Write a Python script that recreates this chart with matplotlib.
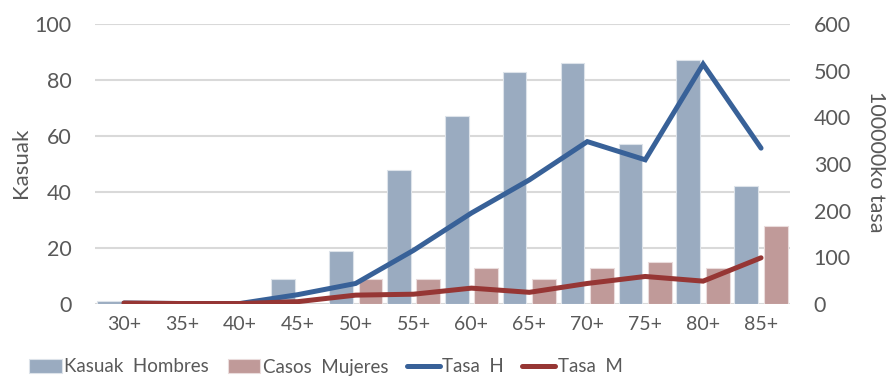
import matplotlib
matplotlib.use("Agg")
import matplotlib.pyplot as plt
import numpy as np

age_groups = ["30+", "35+", "40+", "45+", "50+", "55+", "60+", "65+", "70+", "75+", "80+", "85+"]
cases_men = [1, 0, 0, 9, 19, 48, 67, 83, 86, 57, 87, 42]
cases_women = [0, 0, 0, 0, 9, 9, 13, 9, 13, 15, 13, 28]
rate_men = [2, 1, 1, 20, 44, 115, 195, 266, 348, 309, 514, 334]
rate_women = [2, 1, 1, 5, 19, 21, 34, 25, 44, 59, 49, 99]

plt.rcParams["font.family"] = ["Lato", "DejaVu Sans"]

c_men_bar = "#9AABC0"
c_women_bar = "#C09A99"
c_men_line = "#386198"
c_women_line = "#963634"
txt = "#595959"

W, H = 887, 378
fig = plt.figure(figsize=(W / 100, H / 100), dpi=100)
ax = fig.add_axes([95 / W, 1 - 304 / H, (790 - 95) / W, (304 - 24) / H])
ax2 = ax.twinx()

x = np.arange(len(age_groups))
bw = 0.41
b1 = ax.bar(x - 0.255, cases_men, bw, color=c_men_bar, edgecolor="#DDE3EA", linewidth=0.8,
            label="Kasuak  Hombres", zorder=2)
b2 = ax.bar(x + 0.255, cases_women, bw, color=c_women_bar, edgecolor="#EADCDC", linewidth=0.8,
            label="Casos  Mujeres", zorder=2)
l1, = ax2.plot(x, rate_men, color=c_men_line, lw=3.6, solid_capstyle="round",
               solid_joinstyle="miter", label="Tasa  H", zorder=3)
l2, = ax2.plot(x, rate_women, color=c_women_line, lw=3.6, solid_capstyle="round",
               solid_joinstyle="miter", label="Tasa  M", zorder=3)

ax.set_xlim(-0.5, len(age_groups) - 0.5)
ax.set_ylim(0, 100)
ax2.set_ylim(0, 600)
ax.set_yticks(range(0, 101, 20))
ax2.set_yticks(range(0, 601, 100))
ax.set_xticks(x)
ax.set_xticklabels(age_groups)
ax.yaxis.grid(True, color="#D9D9D9", lw=1.5, zorder=0)
ax.set_axisbelow(True)

for a in (ax, ax2):
    for s in a.spines.values():
        s.set_visible(False)
    a.tick_params(length=0, labelsize=15.5, labelcolor=txt)
ax.tick_params(axis="x", labelsize=14, pad=9)
ax.tick_params(axis="y", pad=17)
ax2.tick_params(axis="y", pad=17)

ax.set_ylabel("Kasuak", fontsize=16, color=txt, ha="center", va="center",
              rotation_mode="anchor")
ax2.set_ylabel("100000ko tasa", fontsize=15.5, color=txt, rotation=270, ha="center",
               va="center", rotation_mode="anchor")
ax.yaxis.set_label_coords(-74 / (790 - 95), (304 - 163) / 280)
ax2.yaxis.set_label_coords((876 - 95) / (790 - 95), (304 - 162) / 280)

ax.set_zorder(ax2.get_zorder() - 1)
ax.patch.set_visible(False)

leg = fig.legend(handles=[b1, b2, l1, l2], loc="center left", ncol=4, frameon=False,
                 bbox_to_anchor=(29 / W, 1 - 367 / H), borderpad=0, borderaxespad=0,
                 prop={"size": 13.5}, labelcolor=txt, handlelength=1.75, handleheight=0.85,
                 handletextpad=0.12, columnspacing=1.0)

fig.savefig("out.png", dpi=100)
